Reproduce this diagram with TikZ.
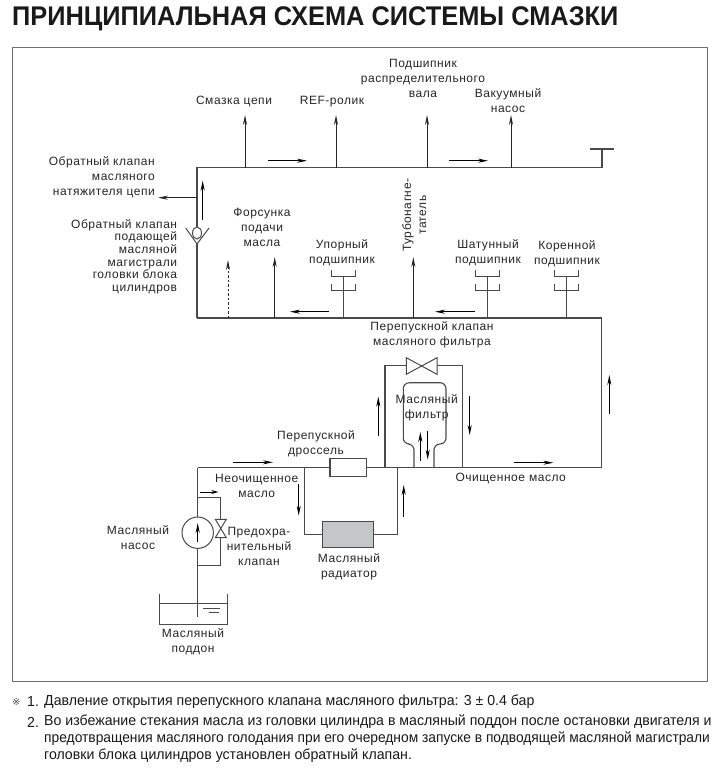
\documentclass[tikz,border=0pt]{standalone}
\usepackage{fontspec}
\setmainfont{Liberation Sans}
\newfontfamily\lblfont[LetterSpace=4.5]{Liberation Sans}
\newfontfamily\notefont[FakeStretch=0.975]{Liberation Sans}
\newfontfamily\notetight[FakeStretch=0.951]{Liberation Sans}
\newfontfamily\headfont[FakeStretch=0.94]{Liberation Sans}
\newfontfamily\symfont{DejaVu Sans}
\usetikzlibrary{arrows.meta}
\usetikzlibrary{shapes.geometric}
\definecolor{pipe}{HTML}{4A4A4A}
\definecolor{framegray}{HTML}{6E6E6E}
\definecolor{radgray}{HTML}{C4C6C8}
\tikzset{
  lbl/.style={font=\lblfont\fontsize{12}{15}\selectfont,align=center,inner sep=0pt,text=black!85,yshift=-1.2pt},
  lbltight/.style={font=\lblfont\fontsize{12}{12.7}\selectfont,align=right,inner sep=0pt,text=black!85,yshift=-1.2pt},
  note/.style={font=\notefont\fontsize{14.5}{14.5}\selectfont,anchor=west,inner sep=0pt,text=black!90},
  pipeline/.style={draw=pipe,line width=1.1pt},
  flow/.style={->,black,line width=0.8pt},
  branch/.style={->,black!85,line width=1.0pt},
  box/.style={draw=pipe,line width=1.1pt,inner sep=0pt},
}
\begin{document}
\begin{tikzpicture}[x=1pt,y=-1pt,>={Stealth[length=10pt,width=4pt]}]
  \useasboundingbox (0,0) rectangle (720,773);
  \node[font=\headfont\bfseries\fontsize{27}{27}\selectfont,anchor=west,inner sep=0pt,text=black!90] (title) at (12,19) {ПРИНЦИПИАЛЬНАЯ СХЕМА СИСТЕМЫ СМАЗКИ};
  \node[draw=framegray,line width=1pt,minimum width=695pt,minimum height=634pt,inner sep=0pt,anchor=north west] (frame) at (11.7,47) {};

  % upper gallery
  \coordinate (upleft) at (197,167.7);
  \coordinate (upright) at (602,167.7);
  \coordinate (upT) at (602,149);
  \coordinate (lowleft) at (197,318);
  \coordinate (lowright) at (601.3,318);
  \coordinate (midright) at (601.3,467.5);
  \coordinate (midleft) at (197.7,467.5);
  \draw[pipeline] (lowleft) -- (197,244);
  \draw[pipeline] (197,227) -- (upleft) -- (upright) -- (upT);
  \draw[pipeline] (590,149) -- (614,149);
  \draw[pipeline] (lowleft) -- (lowright) -- (midright) -- (midleft);
  \foreach \x in {245,336,427,511}
    \draw[branch] (\x,167.7) -- (\x,115);
  \foreach \x/\xx in {268/307,449/488}
    \draw[flow] (\x,160.7) -- (\xx,160.7);
  \foreach \x/\xx in {329/290,475/435}
    \draw[flow] (\x,311.7) -- (\xx,311.7);

  % non return valves
  \draw[branch] (197,197.7) -- (158,197.7);
  \draw[flow] (202.7,220) -- (202.7,180.7);
  \draw[pipeline,line width=1pt] (185.7,228) -- (197,244) -- (209,228);
  \node[draw=pipe,line width=1pt,ellipse,minimum width=9pt,minimum height=12pt,inner sep=0pt] (checkball) at (197,233) {};

  % lower branches
  \draw[->,black!85,line width=1pt,dash pattern=on 2.5pt off 2pt] (228,318) -- (228,260);
  \draw[branch] (274.7,318) -- (274.7,257);
  \draw[branch] (413.3,318) -- (413.3,257);
  \foreach \x in {343,487.7,566.3} {
    \draw[pipe,line width=1pt] (\x,318) -- (\x,276.7);
    \draw[pipe,line width=0.9pt] (\x-12,270) -- (\x-12,276.7) -- (\x+12,276.7) -- (\x+12,270);
    \draw[pipe,line width=0.9pt] (\x-12,284) -- (\x-12,290.7) -- (\x+12,290.7) -- (\x+12,284);
  }

  % oil filter
  \coordinate (bpleft) at (385,467.5);
  \coordinate (bpright) at (462.7,467.5);
  \draw[pipeline] (bpleft) -- (385,365.7) -- (406.3,365.7);
  \draw[pipeline] (437,365.7) -- (462.7,365.7) -- (bpright);
  \draw[pipe,line width=1pt] (406.3,357.7) -- (437,374.3) -- (437,357.7) -- (406.3,374.3) -- cycle;
  \draw[pipeline,rounded corners=6pt] (414,467.5) -- (414,444) -- (403.3,444) -- (403.3,382.7) -- (446,382.7) -- (446,444) -- (434,444) -- (434,467.5);
  \draw[flow] (378.3,436) -- (378.3,396.7);
  \draw[flow] (469.7,395.7) -- (469.7,435);
  \draw[flow] (420.3,460.7) -- (420.3,432);
  \draw[flow] (427.7,431) -- (427.7,459.7);
  \draw[flow] (514,462.7) -- (553.3,462.7);
  \draw[flow] (609.3,414) -- (609.3,375);

  % cooler
  \node[box,fill=white,minimum width=36.7pt,minimum height=18pt] (throttle) at (348.3,467.7) {};
  \node[box,fill=radgray,minimum width=51pt,minimum height=25.6pt] (radiator) at (348.2,534.5) {};
  \draw[pipeline] (304.7,467.5) |- (radiator.west);
  \draw[pipeline] (radiator.east) -| (397.7,467.5);
  \draw[flow] (298.7,484) -- (298.7,515.7);
  \draw[flow] (403.7,516.7) -- (403.7,485);
  \draw[flow] (233,462.3) -- (273,462.3);

  % pump and sump
  \node[draw=pipe,line width=1pt,circle,minimum size=31.4pt,inner sep=0pt] (pump) at (197.7,532.7) {};
  \coordinate (intake) at (197.7,617.3);
  \draw[pipeline] (midleft) -- (pump.north);
  \draw[pipeline] (pump.south) -- (intake);
  \draw[pipeline] (197.7,497.3) -| (220.7,519.3);
  \draw[pipeline] (220.7,537.7) |- (197.7,565.7);
  \draw[pipe,line width=1pt] (215.3,519.3) -- (226.3,537.7) -- (215.3,537.7) -- (226.3,519.3) -- cycle;
  \draw[flow,>={Stealth[length=7pt,width=4pt]}] (200,492) -- (218.3,492);
  \draw[flow,line width=1pt] (197.7,542) -- (197.7,523);
  \draw[pipeline,line width=1pt] (159.3,593.7) -- (159.3,624.7) -- (227.3,624.7) -- (227.3,593.7);
  \draw[pipeline,line width=0.9pt] (159.3,603.3) -- (227.3,603.3);
  \draw[pipe,line width=0.8pt] (203.3,608.3) -- (220,608.3);
  \draw[pipe,line width=0.8pt] (208.7,612) -- (219.3,612);

  % labels
  \node[lbl] (lchain) at (234,100) {Смазка цепи};
  \node[lbl] (lref) at (332,100) {REF-ролик};
  \node[lbl] (lcam) at (423,77) {Подшипник\\распределительного\\вала};
  \node[lbl] (lvac) at (508,99.5) {Вакуумный\\насос};
  \node[lbl,align=right,anchor=east] (ltens) at (155,176) {Обратный клапан\\масляного\\натяжителя цепи};
  \node[lbltight,anchor=east] (lcheck) at (177.3,255.5) {Обратный клапан\\подающей\\масляной\\магистрали\\головки блока\\цилиндров};
  \node[lbl] (ljet) at (262,226) {Форсунка\\подачи\\масла};
  \node[lbl] (lthrust) at (342,251.5) {Упорный\\подшипник};
  \node[lbl,rotate=90] (lturbo) at (414.3,214) {Турбонагне-\\татель};
  \node[lbl] (lrod) at (488,252) {Шатунный\\подшипник};
  \node[lbl] (lmain) at (567,253) {Коренной\\подшипник};
  \node[lbl] (lbypass) at (432,334) {Перепускной клапан\\масляного фильтра};
  \node[lbl] (lfilter) at (426.7,406.5) {Масляный\\фильтр};
  \node[lbl] (lclean) at (510.7,477.7) {Очищенное масло};
  \node[lbl] (lthrottle) at (316,442.5) {Перепускной\\дроссель};
  \node[lbl] (ldirty) at (256.7,484.5) {Неочищенное\\масло};
  \node[lbl] (lpump) at (138,536.5) {Масляный\\насос};
  \node[lbl] (lrelief) at (259,545) {Предохра-\\нительный\\клапан};
  \node[lbl] (lcooler) at (349,565.5) {Масляный\\радиатор};
  \node[lbl] (lsump) at (193,640.5) {Масляный\\поддон};

  % notes
  \node[note,font=\symfont\fontsize{10}{10}\selectfont,text=black!70] (nmark) at (12,702) {※};
  \node[note] (n1a) at (27,702) {1.};
  \node[note] (n1) at (44,702) {Давление открытия перепускного клапана масляного фильтра: 3 ± 0.4 бар};
  \node[note] (n2a) at (27,722) {2.};
  \node[note] (n2) at (44,722) {Во избежание стекания масла из головки цилиндра в масляный поддон после остановки двигателя и};
  \node[note,font=\notetight\fontsize{14.5}{14.5}\selectfont] (n3) at (44,739) {предотвращения масляного голодания при его очередном запуске в подводящей масляной магистрали};
  \node[note] (n4) at (44,756) {головки блока цилиндров установлен обратный клапан.};
\end{tikzpicture}
\end{document}
